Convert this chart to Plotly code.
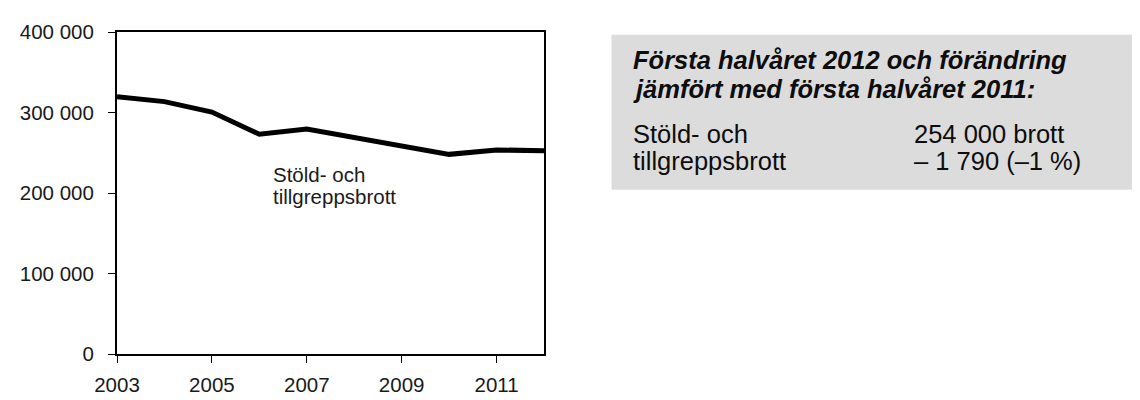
import plotly.graph_objects as go

years = [2003, 2004, 2005, 2006, 2007, 2008, 2009, 2010, 2011, 2012]
offences = [319500, 313500, 300500, 273000, 279500, 269500, 258000, 248000, 253500, 252500]
x_ticks = [2003, 2005, 2007, 2009, 2011]
y_ticks = [0, 100000, 200000, 300000, 400000]
y_tick_labels = ["0", "100 000", "200 000", "300 000", "400 000"]
series_label_lines = ["Stöld- och", "tillgreppsbrott"]
box_title_lines = ["Första halvåret 2012 och förändring",
                   "jämfört med första halvåret 2011:"]
box_left_lines = ["Stöld- och", "tillgreppsbrott"]
box_right_lines = ["254 000 brott", "– 1 790 (–1 %)"]

FONT = "Liberation Sans, Arial, sans-serif"
TXT = "#1a1a1a"

fig = go.Figure()
fig.add_trace(go.Scatter(x=years, y=offences, mode="lines",
                         line=dict(color="black", width=5), hoverinfo="skip",
                         showlegend=False))

fig.update_layout(
    width=1140, height=400,
    margin=dict(l=106, r=604, t=20, b=35),
    paper_bgcolor="white", plot_bgcolor="white",
    font=dict(family=FONT, color=TXT, size=20),
    showlegend=False,
)
fig.update_xaxes(range=[2003, 2012], tickvals=x_ticks, ticks="outside", ticklen=7,
                 tickwidth=1, tickcolor="black", showline=True, linecolor="black",
                 linewidth=2, mirror=True, showgrid=False, zeroline=False,
                 ticklabelstandoff=4,
                 tickfont=dict(size=20.5, color=TXT))
fig.update_yaxes(range=[0, 400000], tickvals=y_ticks, ticktext=y_tick_labels,
                 ticks="outside", ticklen=7, tickwidth=1, tickcolor="black",
                 showline=True, linecolor="black", linewidth=2, mirror=True,
                 showgrid=False, zeroline=False, ticklabelstandoff=10,
                 tickfont=dict(size=20.5, color=TXT))

# in-plot series label (pixel rows converted to data values)
def y_from_px(p):
    return (365 - p) / (365 - 20) * 400000

for i, line in enumerate(series_label_lines):
    fig.add_annotation(x=2006.25, y=y_from_px(172.5 + 24 * i), xref="x", yref="y",
                       text=line, showarrow=False, xanchor="left", yanchor="middle",
                       align="left", font=dict(size=20.5, color=TXT))

# info box
def px_x(p):
    return (p - 106) / (536 - 106)

def px_y(p):
    return (365 - p) / (365 - 20)

fig.add_shape(type="rect", xref="paper", yref="paper",
              x0=px_x(604), x1=px_x(1145), y0=px_y(189), y1=px_y(23),
              fillcolor="#DCDCDC", line=dict(width=0), layer="below")

for i, line in enumerate(box_title_lines):
    fig.add_annotation(xref="paper", yref="paper", x=px_x(624), y=px_y(50 + 31.5 * i),
                       text="<b><i>" + line + "</i></b>", showarrow=False,
                       xanchor="left", yanchor="middle", align="left",
                       font=dict(size=25.5, color="#0d0d0d"))
for i, line in enumerate(box_left_lines):
    fig.add_annotation(xref="paper", yref="paper", x=px_x(624), y=px_y(129 + 29 * i),
                       text=line, showarrow=False,
                       xanchor="left", yanchor="middle", align="left",
                       font=dict(size=25.5, color="#0d0d0d"))
for i, line in enumerate(box_right_lines):
    fig.add_annotation(xref="paper", yref="paper", x=px_x(907), y=px_y(129 + 29 * i),
                       text=line, showarrow=False,
                       xanchor="left", yanchor="middle", align="left",
                       font=dict(size=25.5, color="#0d0d0d"))

fig.write_html("out.html")
